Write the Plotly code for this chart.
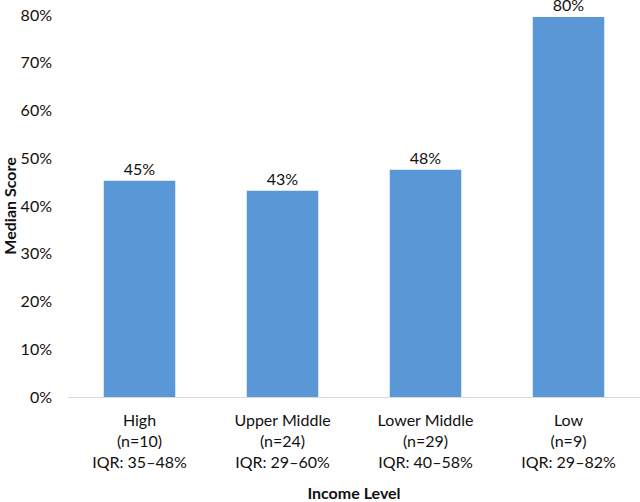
import plotly.graph_objects as go

categories = ["High", "Upper Middle", "Lower Middle", "Low"]
n_counts = [10, 24, 29, 9]
iqr_labels = ["35–48%", "29–60%", "40–58%", "29–82%"]
median_scores = [45.3, 43.2, 47.6, 79.6]

tick_text = [f"{c}<br>(n={n})<br>IQR: {q}" for c, n, q in zip(categories, n_counts, iqr_labels)]
FONT = "Lato, Open Sans, sans-serif"

fig = go.Figure()
fig.add_trace(go.Bar(
    x=categories,
    y=median_scores,
    marker=dict(color="#5a97d7", line=dict(width=0)),
    text=[f"{round(v)}%" for v in median_scores],
    textposition="outside",
    textfont=dict(size=16, color="#111111", family=FONT),
    cliponaxis=False,
    hoverinfo="skip",
))

fig.update_xaxes(
    tickvals=categories,
    ticktext=tick_text,
    showline=True, linecolor="#d9d9d9", linewidth=1,
    showgrid=False, ticks="", ticklabelstandoff=9,
    tickfont=dict(size=16, color="#111111", family=FONT),
    title=dict(text="<b>Income Level</b>", font=dict(size=16, color="#111111", family=FONT), standoff=27),
    automargin=False,
)
fig.update_yaxes(
    range=[0, 80], dtick=10, ticksuffix="%",
    showgrid=False, zeroline=False, showline=False,
    ticklabelstandoff=15, ticklabeloverflow="allow",
    tickfont=dict(size=16, color="#111111", family=FONT),
    title=dict(text="<b>Median Score</b>", font=dict(size=16, color="#111111", family=FONT), standoff=12),
    automargin=False,
)
fig.update_layout(
    width=640, height=502,
    margin=dict(l=68, r=0, t=15, b=105),
    bargap=0.5,
    plot_bgcolor="white", paper_bgcolor="white",
    showlegend=False,
)
# drop the default 8px body margin so the figure fills the window
fig.write_html(
    "out.html",
    config={"displayModeBar": False},
    post_script="document.body.style.margin='0';",
)
